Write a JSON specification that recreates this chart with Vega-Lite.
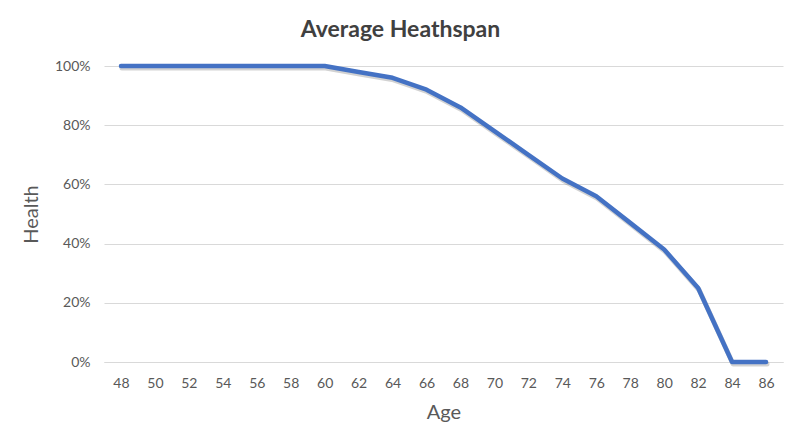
{
  "$schema": "https://vega.github.io/schema/vega-lite/v6.json",
  "width": 679,
  "height": 296,
  "autosize": {"type": "none"},
  "padding": {"left": 104, "top": 66, "right": 17, "bottom": 83},
  "background": "white",
  "title": {
    "text": "Average Heathspan",
    "font": "Lato",
    "fontSize": 23,
    "fontWeight": "bold",
    "color": "#404040",
    "anchor": "middle",
    "dx": -43,
    "offset": 17
  },
  "config": {
    "view": {"stroke": null},
    "font": "Lato"
  },
  "data": {
    "values": [
      {"age": 48, "health": 1.0},
      {"age": 50, "health": 1.0},
      {"age": 52, "health": 1.0},
      {"age": 54, "health": 1.0},
      {"age": 56, "health": 1.0},
      {"age": 58, "health": 1.0},
      {"age": 60, "health": 1.0},
      {"age": 62, "health": 0.98},
      {"age": 64, "health": 0.96},
      {"age": 66, "health": 0.92},
      {"age": 68, "health": 0.86},
      {"age": 70, "health": 0.78},
      {"age": 72, "health": 0.70},
      {"age": 74, "health": 0.62},
      {"age": 76, "health": 0.56},
      {"age": 78, "health": 0.47},
      {"age": 80, "health": 0.38},
      {"age": 82, "health": 0.25},
      {"age": 84, "health": 0.0},
      {"age": 86, "health": 0.0}
    ]
  },
  "encoding": {
    "x": {
      "field": "age",
      "type": "ordinal",
      "scale": {"type": "point", "padding": 0.5},
      "axis": {
        "title": "Age",
        "labelAngle": 0,
        "labelFont": "Lato",
        "labelFontSize": 14,
        "labelColor": "#595959",
        "labelPadding": 14,
        "ticks": false,
        "domainColor": "#d9d9d9",
        "domainWidth": 1,
        "titleFont": "Lato",
        "titleFontSize": 20,
        "titleFontWeight": "normal",
        "titleColor": "#595959",
        "titlePadding": 12
      }
    },
    "y": {
      "field": "health",
      "type": "quantitative",
      "scale": {"domain": [0, 1]},
      "axis": {
        "title": "Health",
        "format": ".0%",
        "values": [0, 0.2, 0.4, 0.6, 0.8, 1.0],
        "labelFont": "Lato",
        "labelFontSize": 14,
        "labelColor": "#595959",
        "labelPadding": 14,
        "ticks": false,
        "domain": false,
        "gridColor": "#d9d9d9",
        "gridWidth": 1,
        "titleFont": "Lato",
        "titleFontSize": 20,
        "titleFontWeight": "normal",
        "titleColor": "#595959",
        "titlePadding": 13
      }
    }
  },
  "layer": [
    {
      "mark": {"type": "line", "color": "#7f7f7f", "strokeWidth": 5, "opacity": 0.35, "yOffset": 2, "xOffset": 1, "strokeCap": "round", "strokeJoin": "round"}
    },
    {
      "mark": {"type": "line", "color": "#4472C4", "strokeWidth": 4.5, "strokeCap": "round", "strokeJoin": "round"}
    }
  ]
}
